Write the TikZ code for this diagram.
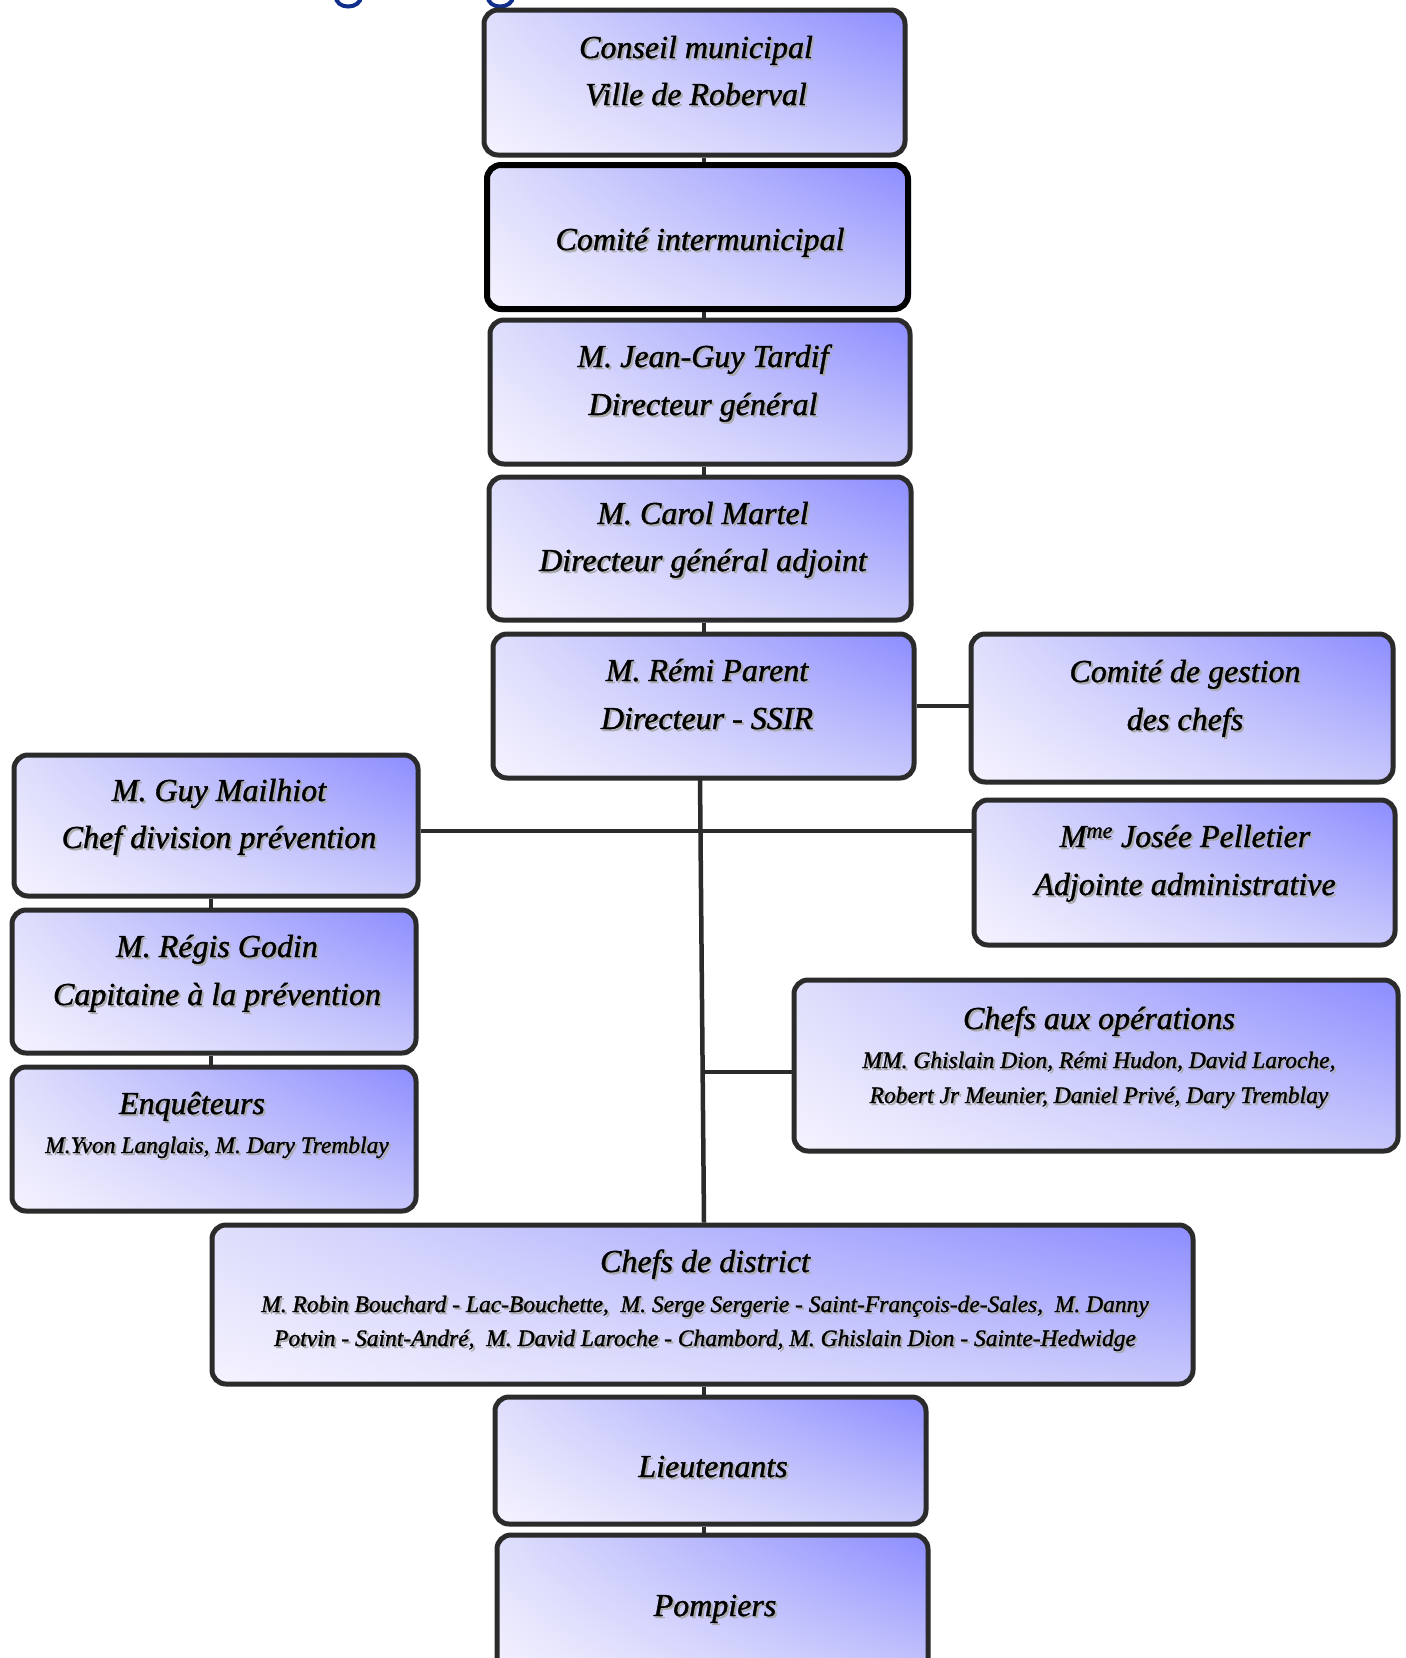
\documentclass[tikz,border=0pt]{standalone}
\usepackage{fontspec}
\setmainfont{Liberation Serif}[ItalicFeatures={FakeBold=1.2}]
\usetikzlibrary{calc,shadings}
\definecolor{bd}{RGB}{43,43,43}
\definecolor{shgray}{RGB}{170,170,170}
\definecolor{cUL}{RGB}{222,222,252}
\definecolor{cUR}{RGB}{140,140,255}
\definecolor{cLL}{RGB}{245,243,254}
\definecolor{cLR}{RGB}{200,200,252}
\definecolor{titleblue}{RGB}{16,46,138}
\newcommand\shtxt[1]{\makebox[0pt][l]{\hspace*{2pt}\raisebox{-2pt}{\color{shgray}#1}}#1}
\tikzset{
  box/.style={shade, draw=bd, line width=5pt, rounded corners=14pt, inner sep=0pt,
    upper left=cUL, upper right=cUR, lower left=cLL, lower right=cLR},
  big/.style={anchor=base, inner sep=0pt, font=\fontsize{32}{38}\selectfont\itshape},
  small/.style={anchor=base, inner sep=0pt, font=\fontsize{23.5}{28}\selectfont\itshape},
  link/.style={draw=bd, line width=4.5pt}
}
\begin{document}
\begin{tikzpicture}[x=1pt,y=-1pt]
\useasboundingbox (0,0) rectangle (1406,1658);
\clip (0,0) rectangle (1406,1658);
\fill[white] (0,0) rectangle (1406,1658);

% cut-off title descenders
\draw[titleblue, line width=4pt] (336,-4) .. controls (335,10) and (361,10) .. (361,-4);
\draw[titleblue, line width=4pt] (488,-4) .. controls (487,10) and (513,10) .. (513,-4);

% boxes
\node[box, minimum width=421pt, minimum height=145pt] (b1) at (694.5,82.5) {};
\node[box, draw=black, line width=6pt, minimum width=421pt, minimum height=144pt] (b2) at (697.5,237) {};
\node[box, minimum width=420pt, minimum height=144pt] (b3) at (700,392) {};
\node[box, minimum width=422pt, minimum height=143pt] (b4) at (700,548.5) {};
\node[box, minimum width=421pt, minimum height=144pt] (b5) at (703.5,706) {};
\node[box, minimum width=422pt, minimum height=148pt] (b6) at (1182,708) {};
\node[box, minimum width=404pt, minimum height=141pt] (b7) at (216,825.5) {};
\node[box, minimum width=421pt, minimum height=145pt] (b8) at (1184.5,872.5) {};
\node[box, minimum width=404pt, minimum height=143pt] (b9) at (214,981.5) {};
\node[box, minimum width=604pt, minimum height=171pt] (b10) at (1096,1065.5) {};
\node[box, minimum width=404pt, minimum height=144pt] (b11) at (214,1139) {};
\node[box, minimum width=981pt, minimum height=159pt] (b12) at (702.5,1304.5) {};
\node[box, minimum width=431pt, minimum height=127pt] (b13) at (710.5,1460.5) {};
\node[box, minimum width=431pt, minimum height=145pt] (b14) at (712.5,1607.5) {};

% connectors
\coordinate (sp) at (704,0);
\coordinate (lx) at (211,0);
\coordinate (hy) at (0,831);
\coordinate (j1) at (700,778);
\coordinate (j2) at (703,1072);
\draw[link] (b1.south -| sp) -- (b2.north -| sp);
\draw[link] (b2.south -| sp) -- (b3.north -| sp);
\draw[link] (b3.south -| sp) -- (b4.north -| sp);
\draw[link] (b4.south -| sp) -- (b5.north -| sp);
\draw[link] (b5.east) -- (b5.east -| b6.west);
\draw[link] (j1) -- (b12.north -| sp);
\draw[link] (b7.east |- hy) -- (b8.west |- hy);
\draw[link] (j2) -- (b10.west |- j2);
\draw[link] (b7.south -| lx) -- (b9.north -| lx);
\draw[link] (b9.south -| lx) -- (b11.north -| lx);
\draw[link] (b12.south -| sp) -- (b13.north -| sp);
\draw[link] (b13.south -| sp) -- (b14.north -| sp);

% texts
\node[big] (t1a) at (696,58) {\shtxt{Conseil municipal}};
\node[big] (t1b) at (696,105) {\shtxt{Ville de Roberval}};
\node[big] (t2) at (700,250) {\shtxt{Comité intermunicipal}};
\node[big] (t3a) at (703,367) {\shtxt{M. Jean-Guy Tardif}};
\node[big] (t3b) at (703,415) {\shtxt{Directeur général}};
\node[big] (t4a) at (703,524) {\shtxt{M. Carol Martel}};
\node[big] (t4b) at (703,571) {\shtxt{Directeur général adjoint}};
\node[big] (t5a) at (707,681) {\shtxt{M. Rémi Parent}};
\node[big] (t5b) at (707,729) {\shtxt{Directeur - SSIR}};
\node[big] (t6a) at (1185,682) {\shtxt{Comité de gestion}};
\node[big] (t6b) at (1185,730) {\shtxt{des chefs}};
\node[big] (t7a) at (219,801) {\shtxt{M. Guy Mailhiot}};
\node[big] (t7b) at (219,848) {\shtxt{Chef division prévention}};
\node[big] (t8a) at (1185,847) {\shtxt{M\textsuperscript{me} Josée Pelletier}};
\node[big] (t8b) at (1185,895) {\shtxt{Adjointe administrative}};
\node[big] (t9a) at (217,957) {\shtxt{M. Régis Godin}};
\node[big] (t9b) at (217,1005) {\shtxt{Capitaine à la prévention}};
\node[big] (t10a) at (1099,1029) {\shtxt{Chefs aux opérations}};
\node[small] (t10b) at (1099,1068) {\shtxt{MM. Ghislain Dion, Rémi Hudon, David Laroche,}};
\node[small] (t10c) at (1099,1103) {\shtxt{Robert Jr Meunier, Daniel Privé, Dary Tremblay}};
\node[big] (t11a) at (192,1114) {\shtxt{Enquêteurs}};
\node[small] (t11b) at (217,1153) {\shtxt{M.Yvon Langlais, M. Dary Tremblay}};
\node[big] (t12a) at (705,1272) {\shtxt{Chefs de district}};
\node[small] (t12b) at (705,1312) {\shtxt{M. Robin Bouchard - Lac-Bouchette,\ \ M. Serge Sergerie - Saint-François-de-Sales,\ \ M. Danny}};
\node[small] (t12c) at (705,1346) {\shtxt{Potvin - Saint-André,\ \ M. David Laroche - Chambord, M. Ghislain Dion - Sainte-Hedwidge}};
\node[big] (t13) at (713,1477) {\shtxt{Lieutenants}};
\node[big] (t14) at (715,1616) {\shtxt{Pompiers}};
\end{tikzpicture}
\end{document}
